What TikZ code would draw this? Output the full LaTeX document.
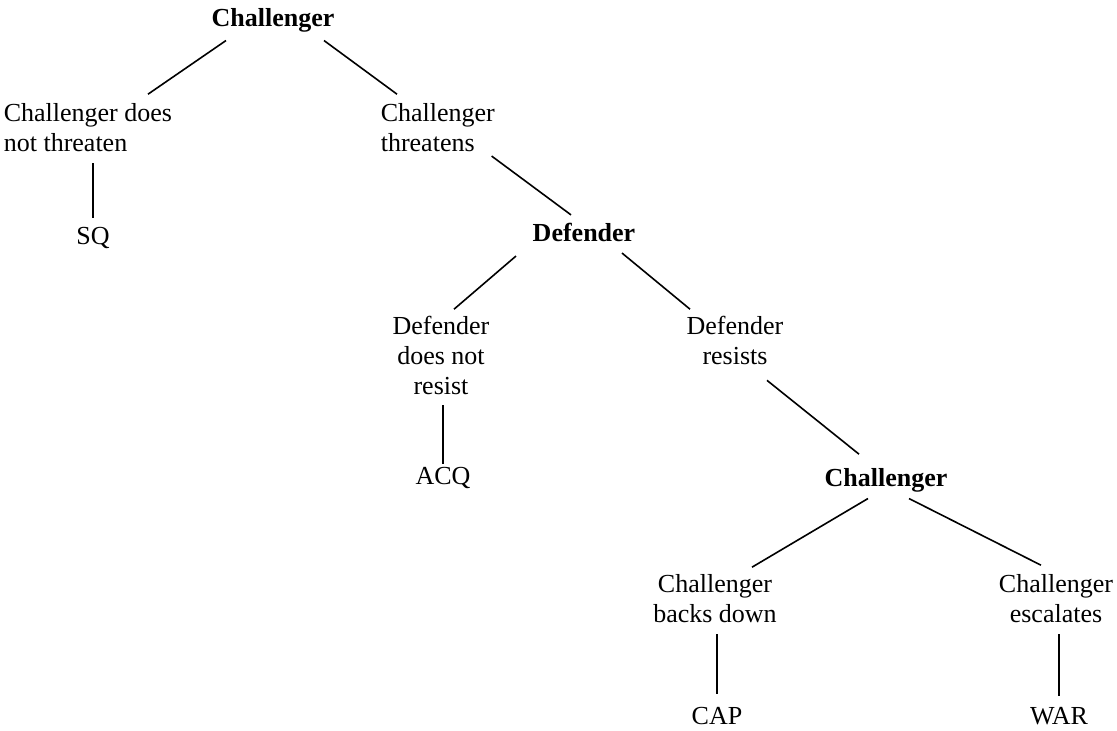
\documentclass[tikz,border=0pt]{standalone}
\usepackage{fontspec}
\setmainfont{Liberation Serif}
\usepackage{tikz}
\usetikzlibrary{positioning}

\begin{document}
\begin{tikzpicture}[x=1pt,y=1pt,line width=1.6pt,
  every node/.style={inner sep=0pt,font=\fontsize{26}{30}\selectfont},
  player/.style={font=\fontsize{26}{30}\selectfont\bfseries},
  move/.style={align=center,anchor=north},
  outcome/.style={anchor=base}]
\useasboundingbox (0,0) rectangle (1117,731);
\node[player,anchor=base] (C1) at (273,704) {Challenger};
\node[move,align=left,anchor=north west] (nothreat) at (3,628.8) {Challenger does\\not threaten};
\node[move,align=left,anchor=north west] (threat) at (380,628.8) {Challenger\\threatens};
\node[outcome] (SQ) at (93,486) {SQ};
\node[player,anchor=base] (D) at (584,489) {Defender};
\node[move] (noresist) at (441,415.8) {Defender\\does not\\resist};
\node[move] (resist) at (735,415.8) {Defender\\resists};
\node[outcome] (ACQ) at (443,246) {ACQ};
\node[player,anchor=base] (C2) at (886,244) {Challenger};
\node[move] (back) at (715,157.8) {Challenger\\backs down};
\node[move] (esc) at (1056,157.8) {Challenger\\escalates};
\node[outcome] (CAP) at (717,6) {CAP};
\node[outcome] (WAR) at (1059,6) {WAR};
\draw ([shift={(-47,-7)}]C1.south) -- ([shift={(145,8)}]nothreat.north west);
\draw ([shift={(51,-7)}]C1.south) -- ([shift={(17,8)}]threat.north west);
\draw ([yshift=-11]SQ.north |- nothreat.south) -- ([yshift=9]SQ.north);
\draw ([shift={(-4,-4)}]threat.south east) -- ([shift={(-13,8)}]D.north);
\draw ([shift={(-68,-13)}]D.south) -- ([shift={(13,6)}]noresist.north);
\draw ([shift={(38,-10)}]D.south) -- ([shift={(-45,6)}]resist.north);
\draw ([yshift=-10]ACQ.north |- noresist.south) -- ([yshift=3]ACQ.north);
\draw ([shift={(32,-15)}]resist.south) -- ([shift={(-27,14)}]C2.north);
\draw ([shift={(-18,-5)}]C2.south) -- ([shift={(37,6)}]back.north);
\draw ([shift={(23,-5)}]C2.south) -- ([shift={(-15,8)}]esc.north);
\draw ([yshift=-11]CAP.north |- back.south) -- ([yshift=13]CAP.north);
\draw ([yshift=-11]WAR.north |- esc.south) -- ([yshift=11]WAR.north);
\end{tikzpicture}
\end{document}
